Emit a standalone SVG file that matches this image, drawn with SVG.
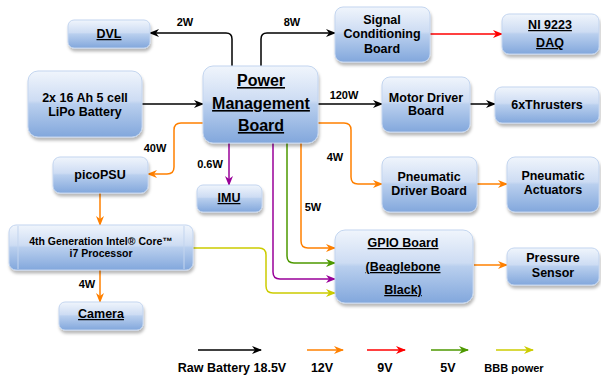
<svg xmlns="http://www.w3.org/2000/svg" width="601" height="376" viewBox="0 0 601 376">
<defs>
<linearGradient id="g" x1="0" y1="0" x2="0" y2="1">
<stop offset="0" stop-color="#f0f5fc"/>
<stop offset="0.45" stop-color="#cddcf3"/>
<stop offset="0.5" stop-color="#b9cfee"/>
<stop offset="1" stop-color="#82a7dc"/>
</linearGradient>
<filter id="sh" x="-10%" y="-10%" width="125%" height="135%">
<feDropShadow dx="1" dy="3" stdDeviation="1.5" flood-color="#000" flood-opacity="0.28"/>
</filter>
<marker id="aK" viewBox="0 0 10 10" refX="9" refY="5" markerWidth="10" markerHeight="10" markerUnits="userSpaceOnUse" orient="auto"><path d="M0,1 L10,5 L0,9 L3,5 z" fill="#000"/></marker>
<marker id="aO" viewBox="0 0 10 10" refX="9" refY="5" markerWidth="10" markerHeight="10" markerUnits="userSpaceOnUse" orient="auto"><path d="M0,1 L10,5 L0,9 L3,5 z" fill="#ff8000"/></marker>
<marker id="aR" viewBox="0 0 10 10" refX="9" refY="5" markerWidth="10" markerHeight="10" markerUnits="userSpaceOnUse" orient="auto"><path d="M0,1 L10,5 L0,9 L3,5 z" fill="#ff0000"/></marker>
<marker id="aG" viewBox="0 0 10 10" refX="9" refY="5" markerWidth="10" markerHeight="10" markerUnits="userSpaceOnUse" orient="auto"><path d="M0,1 L10,5 L0,9 L3,5 z" fill="#4d9900"/></marker>
<marker id="aP" viewBox="0 0 10 10" refX="9" refY="5" markerWidth="10" markerHeight="10" markerUnits="userSpaceOnUse" orient="auto"><path d="M0,1 L10,5 L0,9 L3,5 z" fill="#990099"/></marker>
<marker id="aY" viewBox="0 0 10 10" refX="9" refY="5" markerWidth="10" markerHeight="10" markerUnits="userSpaceOnUse" orient="auto"><path d="M0,1 L10,5 L0,9 L3,5 z" fill="#cccc00"/></marker>
</defs>
<style>
.box{fill:url(#g);stroke:#c3d5ef;stroke-width:1;filter:url(#sh)}
text{font-family:"Liberation Sans",Arial,sans-serif;font-weight:bold;fill:#000;text-anchor:middle}
.t{font-size:12.5px}
.big{font-size:16px;text-decoration:underline}
.u{text-decoration:underline}
.sm{font-size:10.5px}
.lb{font-size:11px}
.c{fill:none;stroke-width:1.5}
.k{stroke:#000;marker-end:url(#aK)}
.o{stroke:#ff8000;marker-end:url(#aO)}
.r{stroke:#ff0000;marker-end:url(#aR)}
.gr{stroke:#4d9900;marker-end:url(#aG)}
.p{stroke:#990099;marker-end:url(#aP)}
.y{stroke:#cccc00;marker-end:url(#aY)}
</style>
<rect width="601" height="376" fill="#fff"/>

<g id="connectors">
<path class="c k" d="M232,66 V39 Q232,33 226,33 H150"/>
<path class="c k" d="M261,66 V39 Q261,33 267,33 H335"/>
<path class="c r" d="M430,34 H502"/>
<path class="c k" d="M142,104 H203"/>
<path class="c k" d="M318,104 H382"/>
<path class="c k" d="M470,104 H495"/>
<path class="c o" d="M203,123 H181 Q174,123 174,130 V167 Q174,174 167,174 H148"/>
<path class="c p" d="M229,143 V185"/>
<path class="c o" d="M318,123 H344 Q351,123 351,130 V177 Q351,184 358,184 H382"/>
<path class="c o" d="M477,184 H507"/>
<path class="c o" d="M100,193 V225"/>
<path class="c o" d="M100,270 V302"/>
<path class="c o" d="M301,143 V241 Q301,248 308,248 H335"/>
<path class="c gr" d="M287,143 V256 Q287,263 294,263 H335"/>
<path class="c p" d="M273,143 V272 Q273,279 280,279 H335"/>
<path class="c y" d="M193,248 H259 Q266,248 266,255 V286 Q266,293 273,293 H335"/>
<path class="c o" d="M474,265 H507"/>
<text class="lb" x="185" y="26">2W</text>
<text class="lb" x="292" y="26">8W</text>
<text class="lb" x="344" y="99">120W</text>
<text class="lb" x="155" y="152">40W</text>
<text class="lb" x="210" y="168">0.6W</text>
<text class="lb" x="335" y="161">4W</text>
<text class="lb" x="313" y="211">5W</text>
<text class="lb" x="87" y="288">4W</text>
</g>

<g id="dvl"><rect class="box" x="68" y="20" width="82" height="28" rx="6"/><text class="t u" x="109" y="38">DVL</text></g>
<g id="battery"><rect class="box" x="28" y="71" width="114" height="66" rx="10"/><text class="t" x="85" y="102">2x 16 Ah 5 cell</text><text class="t" x="85" y="116">LiPo Battery</text></g>
<g id="pmb"><rect class="box" x="203" y="66" width="115" height="77" rx="10"/><text class="big" x="261" y="86">Power</text><text class="big" x="261" y="109">Management</text><text class="big" x="261" y="131">Board</text></g>
<g id="signal"><rect class="box" x="335" y="7" width="95" height="55" rx="8"/><text class="t" x="382" y="24">Signal</text><text class="t" x="382" y="38">Conditioning</text><text class="t" x="382" y="53">Board</text></g>
<g id="daq"><rect class="box" x="502" y="14" width="97" height="40" rx="7"/><text class="t u" x="550" y="29">NI 9223</text><text class="t u" x="550" y="47">DAQ</text></g>
<g id="motor"><rect class="box" x="382" y="77" width="88" height="55" rx="8"/><text class="t" x="426" y="102">Motor Driver</text><text class="t" x="426" y="115">Board</text></g>
<g id="thrusters"><rect class="box" x="495" y="87" width="104" height="36" rx="7"/><text class="t" x="547" y="109">6xThrusters</text></g>
<g id="pdriver"><rect class="box" x="382" y="157" width="95" height="55" rx="8"/><text class="t" x="429" y="181">Pneumatic</text><text class="t" x="429" y="195">Driver Board</text></g>
<g id="pact"><rect class="box" x="507" y="157" width="92" height="55" rx="8"/><text class="t" x="553" y="180">Pneumatic</text><text class="t" x="553" y="194">Actuators</text></g>
<g id="picopsu"><rect class="box" x="53" y="157" width="95" height="36" rx="7"/><text class="t" x="100" y="179">picoPSU</text></g>
<g id="imu"><rect class="box" x="197" y="185" width="65" height="27" rx="6"/><text class="t u" x="229" y="202">IMU</text></g>
<g id="intel"><rect class="box" x="9" y="225" width="184" height="45" rx="7"/><line x1="18" y1="226" x2="18" y2="269" stroke="#c3d5ef"/><line x1="184" y1="226" x2="184" y2="269" stroke="#c3d5ef"/><text class="sm" x="101" y="245">4th Generation Intel® Core™</text><text class="sm" x="101" y="257">i7 Processor</text></g>
<g id="camera"><rect class="box" x="59" y="302" width="84" height="28" rx="6"/><text class="t u" x="101" y="318">Camera</text></g>
<g id="gpio"><rect class="box" x="335" y="230" width="138" height="73" rx="10"/><text class="t u" x="403" y="247">GPIO Board</text><text class="t u" x="403" y="271">(Beaglebone</text><text class="t u" x="403" y="294">Black)</text></g>
<g id="pressure"><rect class="box" x="507" y="248" width="92" height="37" rx="7"/><text class="t" x="553" y="262">Pressure</text><text class="t" x="553" y="277">Sensor</text></g>

<g id="legend">
<path class="c k" d="M198,350 H261"/>
<path class="c o" d="M307,350 H343"/>
<path class="c r" d="M367,350 H405"/>
<path class="c gr" d="M431,350 H468"/>
<path class="c y" d="M496,350 H533"/>
<text class="t" x="232" y="372">Raw Battery 18.5V</text>
<text class="t" x="322" y="372">12V</text>
<text class="t" x="385" y="372">9V</text>
<text class="t" x="448" y="372">5V</text>
<text class="lb" x="514" y="372">BBB power</text>
</g>
</svg>
